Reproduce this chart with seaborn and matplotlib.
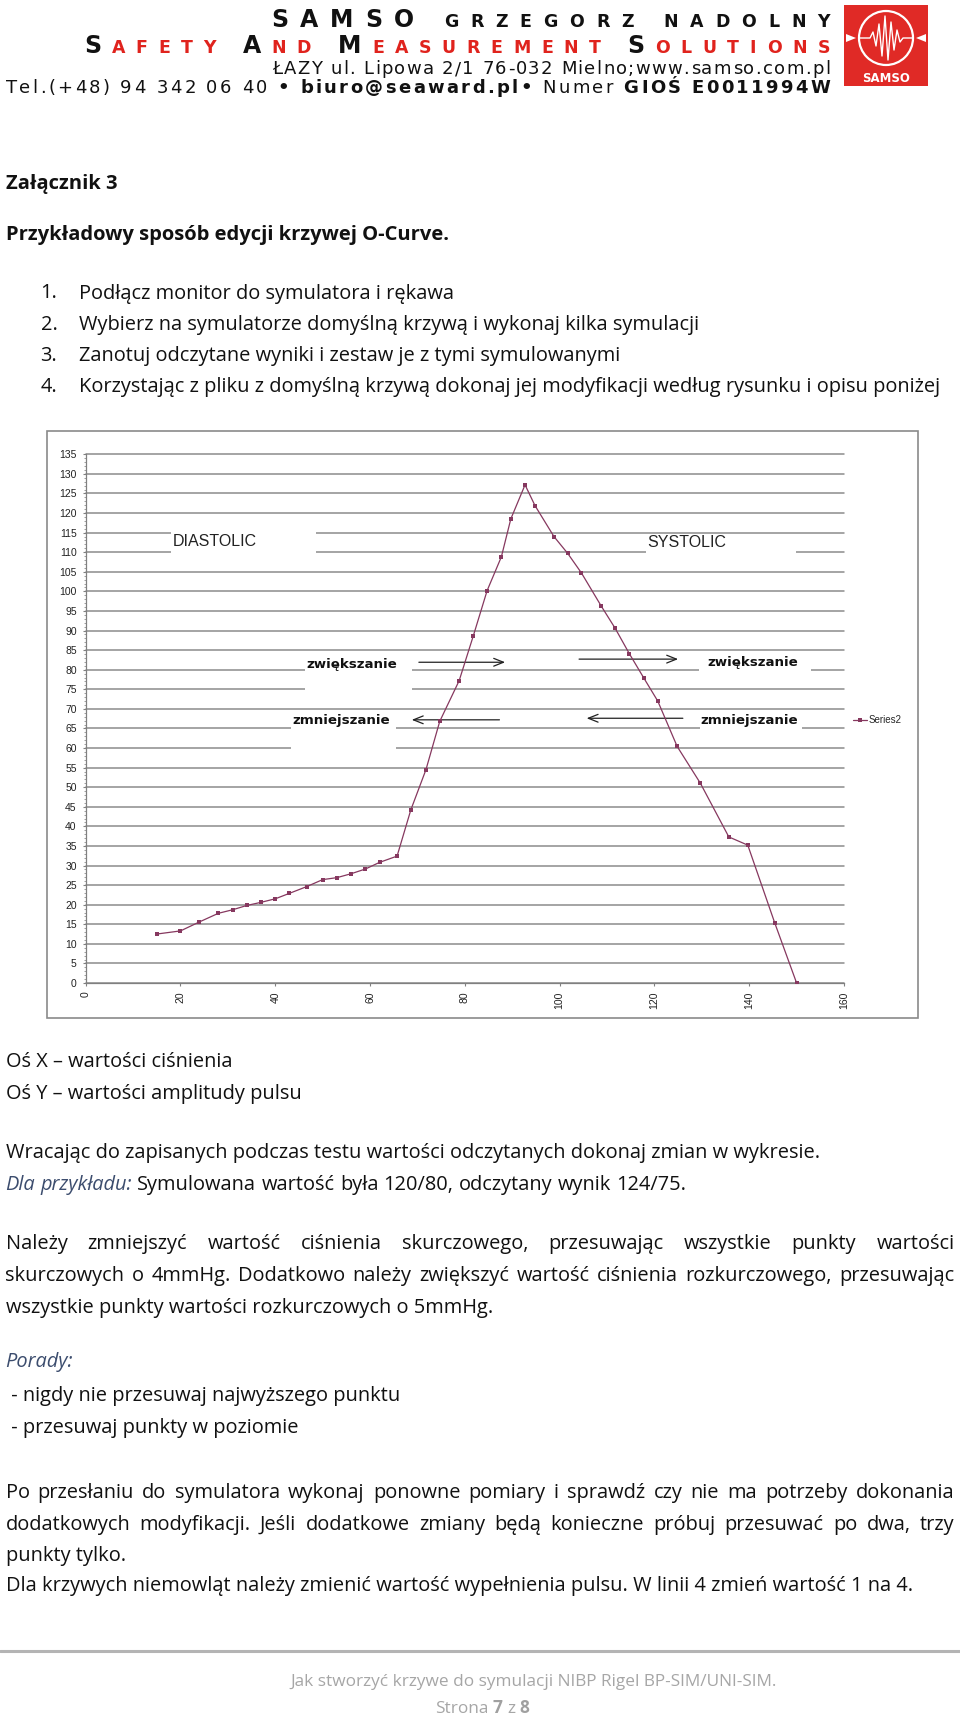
import matplotlib
matplotlib.use('Agg')
import matplotlib.pyplot as plt
import matplotlib.transforms as mtransforms
from matplotlib.font_manager import FontProperties
from matplotlib.patches import Rectangle, FancyArrowPatch, Circle, Polygon
from matplotlib.lines import Line2D
from matplotlib.ticker import MultipleLocator
import pandas as pd
import seaborn as sns

# O-curve points
pressure = [15, 20, 24, 28, 31, 34, 37, 40, 43, 46.6, 50, 53, 56, 59, 62, 65.7,
            68.6, 71.8, 74.7, 78.8, 81.8, 84.7, 87.7, 89.7, 92.7, 94.8, 98.8,
            101.7, 104.6, 108.8, 111.7, 114.7, 117.7, 120.7, 124.8, 129.7,
            135.7, 139.7, 145.4, 150]
amplitude = [12.5, 13.3, 15.6, 17.8, 18.7, 19.8, 20.6, 21.5, 22.9, 24.6, 26.4,
             26.9, 27.9, 29.1, 30.8, 32.4, 44.2, 54.5, 66.8, 77.2, 88.7, 100.2,
             108.8, 118.5, 127.2, 121.9, 114.0, 109.7, 104.7, 96.2, 90.6, 84.1,
             78.0, 72.0, 60.4, 51.0, 37.3, 35.2, 15.3, 0]
series_name = 'Series2'
y_ticks = list(range(0, 136, 5))
x_ticks = list(range(0, 161, 20))

# labels drawn on the chart
phase_labels = ['DIASTOLIC', 'SYSTOLIC']
hint_labels = ['zwiększanie', 'zmniejszanie']

W, H = 960, 1719
BODY = 'Open Sans'
ARIAL = 'Liberation Sans'
LINE = '#86385f'
GRID = '#8c8c8c'
BLUE = '#3c4d6e'

sns.set_style('white')
plt.rcParams['font.family'] = [BODY, 'DejaVu Sans']

fig = plt.figure(figsize=(W / 100, H / 100), dpi=100)
px = mtransforms.Affine2D().scale(1 / W, -1 / H).translate(0, 1) + fig.transFigure
renderer = fig.canvas.get_renderer()


def fprops(s):
    return FontProperties(family=s.get('family', BODY), size=s.get('size', 12),
                          weight=s.get('weight', 'normal'), style=s.get('style', 'normal'))


def text_w(t, s):
    w, h, d = renderer.get_text_width_height_descent(t, fprops(s), ismath=False)
    return w


def put(x, y, t, s, **kw):
    fig.text(x, y, t, transform=px, va='baseline',
             family=s.get('family', BODY), size=s.get('size', 12),
             weight=s.get('weight', 'normal'), style=s.get('style', 'normal'),
             color=s.get('color', '#111111'), **kw)


def put_words(x0, base, runs, x1=None):
    # lay out words left to right, justified if x1 is given
    words = [(w, s) for t, s in runs for w in t.split()]
    ws = [text_w(w, s) for w, s in words]
    if x1 is None:
        s0 = words[0][1]
        gap = text_w('n n', s0) - 2 * text_w('n', s0)
    else:
        gap = (x1 - x0 - sum(ws)) / (len(words) - 1)
    x = x0
    for (w, s), wd in zip(words, ws):
        put(x, base, w, s)
        x += wd + gap


def put_spaced(x0, x1, base, runs):
    # letter-spaced header line, stretched between x0 and x1
    chars = [(c, s) for t, s in runs for c in t]
    ws = [s['size'] * 0.45 if c == ' ' else text_w(c, s) for c, s in chars]
    gap = (x1 - x0 - sum(ws)) / (len(chars) - 1)
    x = x0
    for (c, s), wd in zip(chars, ws):
        if c != ' ':
            put(x, base, c, s)
        x += wd + gap


# ---------------- header ----------------
big = dict(family='DejaVu Sans', size=17, weight='bold', color='#111111')
small = dict(family='DejaVu Sans', size=12.5, weight='bold', color='#111111')
red = dict(family='DejaVu Sans', size=12.5, weight='bold', color='#e0231d')
narrow = dict(family=['Liberation Sans Narrow', 'DejaVu Sans'], size=13, color='#111111')
narrow_b = dict(family=['Liberation Sans Narrow', 'DejaVu Sans'], size=13, weight='bold', color='#111111')

put_spaced(271, 830, 27, [('SAMSO', big), (' GRZEGORZ NADOLNY', small)])
put_spaced(84, 830, 53, [('S', big), ('AFETY ', red), ('A', big), ('ND ', red),
                         ('M', big), ('EASUREMENT ', red), ('S', big), ('OLUTIONS', red)])
put_spaced(272, 830, 74, [('ŁAZY ul. Lipowa 2/1 76-032 Mielno;www.samso.com.pl', narrow)])
put_spaced(5.5, 830, 93, [('Tel.(+48) 94 342 06 40 ', narrow), ('• biuro@seaward.pl• ', narrow_b),
                          ('Numer ', narrow), ('GIOŚ E0011994W', narrow_b)])

# logo
fig.add_artist(Rectangle((844, 5), 84, 81, transform=px, facecolor='#e02a26', edgecolor='none'))
fig.add_artist(Circle((886, 38), 27, transform=px, facecolor='none', edgecolor='white', lw=1.6))
wave = [(-27, 0), (-16, 0), (-13, -6), (-10, 8), (-7, -14), (-4, 18), (-1, -22), (2, 22),
        (5, -16), (8, 12), (11, -8), (14, 4), (17, 0), (27, 0)]
fig.add_artist(Line2D([886 + a for a, b in wave], [38 + b for a, b in wave], transform=px,
                      color='white', lw=1.0))
fig.add_artist(Polygon([(846, 34), (856, 38), (846, 42)], transform=px, facecolor='white', edgecolor='none'))
fig.add_artist(Polygon([(926, 34), (916, 38), (926, 42)], transform=px, facecolor='white', edgecolor='none'))
fig.text(886, 82, 'SAMSO', transform=px, ha='center', va='baseline', color='white',
         family='DejaVu Sans', weight='bold', size=8.5)

# ---------------- body text above chart ----------------
body = dict(size=14.4, color='#111111')
bold = dict(size=14.5, weight='bold', color='#111111')
ital = dict(size=14.4, style='italic', color=BLUE)

put(5.5, 189, 'Załącznik 3', bold)
put(5.5, 240, 'Przykładowy sposób edycji krzywej O-Curve.', bold)
steps = ['Podłącz monitor do symulatora i rękawa',
         'Wybierz na symulatorze domyślną krzywą i wykonaj kilka symulacji',
         'Zanotuj odczytane wyniki i zestaw je z tymi symulowanymi',
         'Korzystając z pliku z domyślną krzywą dokonaj jej modyfikacji według rysunku i opisu poniżej']
for i, (st, base) in enumerate(zip(steps, [298.5, 330, 361, 392])):
    put(40.5, base, f'{i + 1}.', body)
    put(79, base, st, body)

# ---------------- chart ----------------
fig.add_artist(Rectangle((46.7, 431), 871.3, 586.7, transform=px, facecolor='white',
                         edgecolor='#8a8a8a', lw=1.2, zorder=0))
ax = fig.add_axes([85.7 / W, 1 - 983 / H, (844 - 85.7) / W, (983 - 454.3) / H])
df = pd.DataFrame({'pressure': pressure, 'amplitude': amplitude})
sns.lineplot(data=df, x='pressure', y='amplitude', ax=ax, sort=False, estimator=None,
             color=LINE, lw=0.9, marker='s', markersize=3, markeredgewidth=0,
             label=series_name, zorder=4)
ax.set_xlim(0, 160)
ax.set_ylim(0, 135)
ax.set_xticks(x_ticks)
ax.set_yticks(y_ticks)
ax.yaxis.set_minor_locator(MultipleLocator(1))
ax.set_xticklabels([str(v) for v in x_ticks], rotation=90, family=ARIAL)
ax.set_yticklabels([str(v) for v in y_ticks], family=ARIAL)
ax.tick_params(axis='both', which='major', length=2.5, width=0.8, color='#808080',
               labelsize=7.5, labelcolor='#222222', left=True, bottom=True)
ax.tick_params(axis='y', which='major', pad=4)
ax.tick_params(axis='x', which='major', pad=3.5)
ax.tick_params(axis='y', which='minor', length=1.3, width=0.6, color='#909090', left=True)
ax.set_xlabel('')
ax.set_ylabel('')
ax.yaxis.grid(True, color=GRID, lw=1.1)
ax.set_axisbelow(True)
for gl in ax.get_ygridlines():
    gl.set_clip_on(False)
for side in ['top', 'right']:
    ax.spines[side].set_visible(False)
for side in ['left', 'bottom']:
    ax.spines[side].set_color('#808080')
    ax.spines[side].set_linewidth(0.9)

# white text boxes that hide the gridlines behind the labels
boxes = [(18.0, 108.0, 30.6, 9.0), (118.2, 108.0, 31.7, 6.5),
         (46.3, 73.3, 22.5, 9.7), (43.3, 58.3, 22.2, 10.2),
         (129.4, 76.5, 23.6, 7.5), (129.6, 62.0, 21.6, 7.0)]
for bx, by, bw, bh in boxes:
    ax.add_patch(Rectangle((bx, by), bw, bh, facecolor='white', edgecolor='none', zorder=1))

ax.text(18.3, 112.8, phase_labels[0], family=ARIAL, size=11.5, va='center', color='#222222', zorder=5)
ax.text(118.4, 112.4, phase_labels[1], family=ARIAL, size=11.5, va='center', color='#222222', zorder=5)
hint = dict(family='DejaVu Sans', size=9.6, weight='bold', va='center', color='#111111', zorder=5)
ax.text(46.5, 81.3, hint_labels[0], **hint)
ax.text(131.1, 81.9, hint_labels[0], **hint)
ax.text(43.7, 66.9, hint_labels[1], **hint)
ax.text(129.7, 66.9, hint_labels[1], **hint)

arrows = [((70.3, 81.9), (88.5, 81.9)), ((87.3, 67.2), (68.8, 67.2)),
          ((104.1, 82.7), (125.0, 82.7)), ((126.0, 67.6), (105.7, 67.6))]
for a, b in arrows:
    ax.add_patch(FancyArrowPatch(a, b, arrowstyle='->,head_length=0.7,head_width=0.28',
                                 mutation_scale=10, color='#222222', lw=0.9,
                                 shrinkA=0, shrinkB=0, zorder=3))

ax.legend(loc='center left', bbox_to_anchor=(853 / W, 1 - 720 / H), bbox_transform=fig.transFigure,
          frameon=False, prop=FontProperties(family=ARIAL, size=7), handlelength=1.4,
          handletextpad=0.25, borderpad=0, borderaxespad=0)

# ---------------- body text below chart ----------------
put(5.5, 1067, 'Oś X – wartości ciśnienia', body)
put(5.5, 1099, 'Oś Y – wartości amplitudy pulsu', body)
put(5.5, 1158, 'Wracając do zapisanych podczas testu wartości odczytanych dokonaj zmian w wykresie.', body)
put_words(5.5, 1190, [('Dla przykładu:', ital), ('Symulowana wartość była 120/80, odczytany wynik 124/75.', body)])

put_words(5.5, 1249, [('Należy zmniejszyć wartość ciśnienia skurczowego, przesuwając wszystkie punkty wartości', body)], 954.5)
put_words(5.5, 1281, [('skurczowych o 4mmHg. Dodatkowo należy zwiększyć wartość ciśnienia rozkurczowego, przesuwając', body)], 954.5)
put(5.5, 1313, 'wszystkie punkty wartości rozkurczowych o 5mmHg.', body)

put(5.5, 1366.5, 'Porady:', ital)
put(5.5, 1401.5, ' - nigdy nie przesuwaj najwyższego punktu', body)
put(5.5, 1433, ' - przesuwaj punkty w poziomie', body)

put_words(5.5, 1498, [('Po przesłaniu do symulatora wykonaj ponowne pomiary i sprawdź czy nie ma potrzeby dokonania', body)], 954.5)
put_words(5.5, 1530, [('dodatkowych modyfikacji. Jeśli dodatkowe zmiany będą konieczne próbuj przesuwać po dwa, trzy', body)], 954.5)
put(5.5, 1560.5, 'punkty tylko.', body)
put(5.5, 1591, 'Dla krzywych niemowląt należy zmienić wartość wypełnienia pulsu. W linii 4 zmień wartość 1 na 4.', body)

# ---------------- footer ----------------
fig.add_artist(Line2D([0, 960], [1651, 1651], transform=px, color='#b4b4b4', lw=2.2))
foot = dict(size=12.4, color='#a6a6a6')
foot_b = dict(size=12.4, weight='bold', color='#a0a0a0')
fig.text(534, 1686, 'Jak stworzyć krzywe do symulacji NIBP Rigel BP-SIM/UNI-SIM.', transform=px,
         ha='center', va='baseline', family=BODY, size=12.4, color='#a6a6a6')
runs = [('Strona', foot), ('7', foot_b), ('z', foot), ('8', foot_b)]
sp = text_w('n n', foot) - 2 * text_w('n', foot)
total = sum(text_w(t, s) for t, s in runs) + sp * 3
put_words(482 - total / 2, 1713, runs)

fig.savefig('out.png', dpi=100, facecolor='white')
